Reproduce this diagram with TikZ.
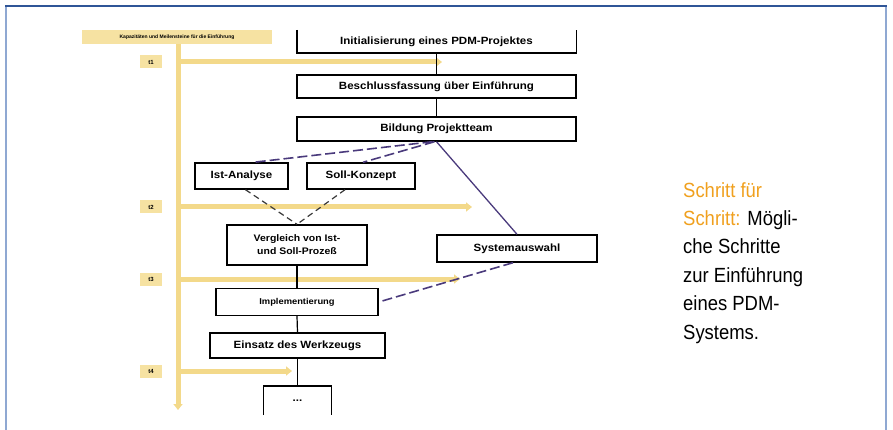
\documentclass[tikz,border=0pt]{standalone}
\usepackage{fontspec}
\setmainfont{Liberation Sans}
\newfontfamily\boxfont[FakeStretch=1.1]{Liberation Sans}
\newfontfamily\capfont[FakeStretch=0.9]{Liberation Sans}
\usetikzlibrary{arrows.meta,calc}
\definecolor{framelight}{HTML}{8FA8D2}
\definecolor{framedark}{HTML}{2F5597}
\definecolor{ylw}{HTML}{F3D98A}
\definecolor{ylwfill}{HTML}{F6E2A2}
\definecolor{purp}{HTML}{4A3A7C}
\definecolor{dgray}{HTML}{3A3A3A}
\definecolor{orng}{HTML}{F0A01E}
\tikzset{
  stepbox/.style={draw=black, line width=1.4pt, fill=white, inner sep=0pt, font=\boxfont\bfseries\fontsize{10.5}{12}\selectfont},
  openbox/.style={inner sep=0pt, font=\boxfont\bfseries\fontsize{10.5}{12}\selectfont},
  tlabel/.style={fill=ylwfill, minimum width=22pt, minimum height=13pt, inner sep=0pt, font=\bfseries\fontsize{6}{7}\selectfont},
  ybar/.style={draw=ylw, line width=5pt, -{Triangle[length=6pt,width=9pt]}},
  conn/.style={draw=black, line width=1.2pt},
  pdash/.style={draw=purp, line width=1.6pt, dash pattern=on 10pt off 4pt},
  gdash/.style={draw=dgray, line width=1.2pt, dash pattern=on 6pt off 4pt},
  psolid/.style={draw=purp, line width=1.3pt}
}
\begin{document}
\begin{tikzpicture}[x=1pt,y=-1pt]
\useasboundingbox (0,0) rectangle (893,430);
% frame
\draw[framelight, line width=2.5pt] (6,430) -- (6,6);
\draw[framelight, line width=2.5pt] (886,6) -- (886,430);
\draw[framedark, line width=2pt] (5,6) -- (887,6);

% yellow timeline
\node[fill=ylwfill, minimum width=190pt, minimum height=14pt, inner sep=0pt, font=\bfseries\fontsize{5}{6}\selectfont] (hdr) at (177,37) {Kapazitäten und Meilensteine für die Einführung};
\coordinate (vend) at (178,410);
\draw[ybar] (hdr.south -| vend) -- (vend);
\node[tlabel] (t1) at (151,62) {t1};
\node[tlabel] (t2) at (151,207) {t2};
\node[tlabel] (t3) at (151,279) {t3};
\node[tlabel] (t4) at (151,371) {t4};
\coordinate (e1) at (442,62);
\coordinate (e2) at (472,207);
\coordinate (e3) at (460,279);
\coordinate (e4) at (292,371);
\draw[ybar] (t1 -| vend) -- (e1);
\draw[ybar] (t2 -| vend) -- (e2);
\draw[ybar] (t3 -| vend) -- (e3);
\draw[ybar] (t4 -| vend) -- (e4);

% step boxes
\node[openbox, minimum width=279pt, minimum height=23pt] (b1) at (436.5,41.5) {Initialisierung eines PDM-Projektes};
\draw[black, line width=1.4pt] (b1.north west) -- (b1.south west) -- (b1.south east) -- (b1.north east);
\node[stepbox, minimum width=279pt, minimum height=23pt] (b2) at (436.5,86.5) {Beschlussfassung über Einführung};
\node[stepbox, minimum width=279pt, minimum height=24pt] (b3) at (436.5,129) {Bildung Projektteam};
\node[stepbox, minimum width=93pt, minimum height=26pt] (ist) at (241.5,176) {Ist-Analyse};
\node[stepbox, minimum width=108pt, minimum height=26pt] (soll) at (361,176) {Soll-Konzept};
\node[stepbox, minimum width=140pt, minimum height=40pt, align=center, font=\boxfont\bfseries\fontsize{9.5}{13}\selectfont] (vgl) at (297,245) {Vergleich von Ist-\\und Soll-Prozeß};
\node[stepbox, minimum width=160pt, minimum height=27pt] (sys) at (517,248.5) {Systemauswahl};
\node[stepbox, minimum width=162pt, minimum height=27pt, font=\boxfont\bfseries\fontsize{8.5}{10}\selectfont] (impl) at (297,302) {Implementierung};
\node[stepbox, minimum width=175pt, minimum height=25pt] (eins) at (297.5,345.5) {Einsatz des Werkzeugs};
\node[openbox, minimum width=68pt, minimum height=29pt] (dots) at (297.5,400.5) {...};
\draw[black, line width=1.4pt] (dots.south west) -- (dots.north west) -- (dots.north east) -- (dots.south east);

% connectors
\draw[conn] (b1.south) -- (b2.north);
\draw[conn] (b2.south) -- (b3.north);
\draw[pdash] ($(b3.south)+(-4,0)$) -- ($(ist.north)+(12,0)$);
\draw[pdash] ($(b3.south)+(-2,0)$) -- ($(soll.north)+(2,0)$);
\draw[psolid] (b3.south) -- (sys.north);
\draw[gdash] ($(ist.south)+(4,0)$) -- (vgl.north);
\draw[gdash] ($(soll.south)+(-16,0)$) -- (vgl.north);
\draw[conn] (vgl.south) -- (impl.north);
\draw[conn] (impl.south) -- (eins.north);
\draw[conn] (eins.south) -- (dots.north);
\draw[pdash] ($(sys.south)+(-4,0)$) -- (impl.east);

% caption
\node[anchor=north west, align=left, inner sep=0pt, font=\capfont\fontsize{20.5}{28.4}\selectfont] (cap) at (683,182)
{{\color{orng}Schritt für}\\{\color{orng}Schritt:} Mögli-\\che Schritte\\zur Einführung\\eines PDM-\\Systems.};
\end{tikzpicture}
\end{document}
